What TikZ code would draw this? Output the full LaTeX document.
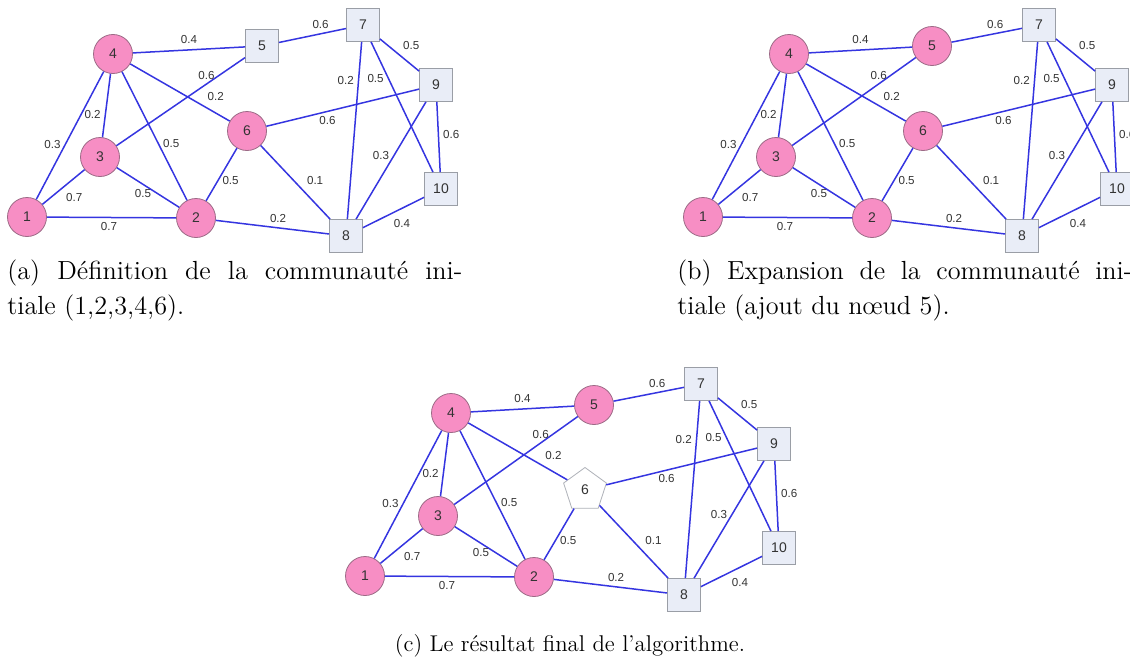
\documentclass[tikz,border=0pt]{standalone}
\usepackage{fontspec}
\newfontfamily\arial{Liberation Sans}
\usetikzlibrary{shapes.geometric}
\definecolor{rose}{HTML}{F78EC4}
\definecolor{roseborder}{HTML}{9C6A86}
\definecolor{grisbleu}{HTML}{E9EDF7}
\definecolor{grisbord}{HTML}{9A9EA6}
\definecolor{lienbleu}{HTML}{3535E0}
\definecolor{texte}{HTML}{333333}

\begin{document}
\begin{tikzpicture}[
  x=0.5pt, y=-0.5pt,
  every node/.style={font=\arial\fontsize{7}{8}\selectfont, text=texte},
  membre/.style={circle, draw=roseborder, fill=rose, minimum size=19.5pt,
                 inner sep=0pt},
  carre/.style={rectangle, draw=grisbord, fill=grisbleu, minimum size=16.5pt,
                inner sep=0pt},
  penta/.style={regular polygon, regular polygon sides=5, draw=grisbord!80,
                fill=white, minimum size=22.5pt, inner sep=0pt},
  lien/.style={draw=lienbleu, line width=0.75pt},
  poids/.style={font=\arial\fontsize{5.8}{6}\selectfont, inner sep=2pt},
  legende/.style={font=\fontsize{13.1}{17.5}\selectfont, text=black,
                  align=left, inner sep=0pt},
]
\clip (0,0) rectangle (1130,669);

% the same graph three times: (a), (b), (c)
\foreach \p/\dx/\dy/\cinq/\six/\xc in {a/0/0/carre/membre/262,
    b/676/0/membre/membre/256, c/338/359/membre/penta/256} {
\begin{scope}[shift={(\dx,\dy)}]
  \node[membre] (\p1) at (27,217) {1};
  \node[membre] (\p2) at (196,218) {2};
  \node[membre] (\p3) at (100,157) {3};
  \node[membre] (\p4) at (113,54) {4};
  \node[\cinq] (\p5) at (\xc,46) {5};
  \node[\six] (\p6) at (247,131) {6};
  \node[carre] (\p7) at (363,25) {7};
  \node[carre] (\p8) at (346,236) {8};
  \node[carre] (\p9) at (436,85) {9};
  \node[carre] (\p10) at (441,189) {10};

  \draw[lien] (\p4) -- node[poids, above=1pt] {0.4} (\p5);
  \draw[lien] (\p5) -- node[poids, pos=.62, above] {0.6} (\p7);
  \draw[lien] (\p3) -- node[poids, pos=.7, above] {0.6} (\p5);
  \draw[lien] (\p4) -- node[poids, pos=.73, above right] {0.2} (\p6);
  \draw[lien] (\p4) -- node[poids, pos=.64, left] {0.2} (\p3);
  \draw[lien] (\p1) -- node[poids, pos=.43, left] {0.3} (\p4);
  \draw[lien] (\p4) -- node[poids, pos=.56, right] {0.5} (\p2);
  \draw[lien] (\p1) -- node[poids, pos=.45, below right] {0.7} (\p3);
  \draw[lien] (\p3) -- node[poids, pos=.42, below] {0.5} (\p2);
  \draw[lien] (\p1) -- node[poids, pos=.48, below] {0.7} (\p2);
  \draw[lien] (\p2) -- node[poids, pos=.38, right] {0.5} (\p6);
  \draw[lien] (\p6) -- node[poids, pos=.6, above right] {0.1} (\p8);
  \draw[lien] (\p2) -- node[poids, pos=.55, above] {0.2} (\p8);
  \draw[lien] (\p6) -- node[poids, pos=.4, below] {0.6} (\p9);
  \draw[lien] (\p7) -- node[poids, pos=.22, left] {0.2} (\p8);
  \draw[lien] (\p7) -- node[poids, pos=.28, left] {0.5} (\p10);
  \draw[lien] (\p7) -- node[poids, pos=.47, above right] {0.5} (\p9);
  \draw[lien] (\p8) -- node[poids, pos=.54, left] {0.3} (\p9);
  \draw[lien] (\p9) -- node[poids, pos=.46, right] {0.6} (\p10);
  \draw[lien] (\p8) -- node[poids, pos=.43, below right] {0.4} (\p10);
\end{scope}
}

\node[legende, anchor=north west] (capa) at (7,259)
  {\makebox[227.5pt][s]{(a) Définition de la communauté ini-}\\ tiale (1,2,3,4,6).};
\node[legende, anchor=north west] (capb) at (677,259)
  {\makebox[227.5pt][s]{(b) Expansion de la communauté ini-}\\ tiale (ajout du nœud 5).};
\node[legende, font=\fontsize{11.4}{14}\selectfont] (capc) at (570,646)
  {(c) Le résultat final de l'algorithme.};
\end{tikzpicture}
\end{document}
